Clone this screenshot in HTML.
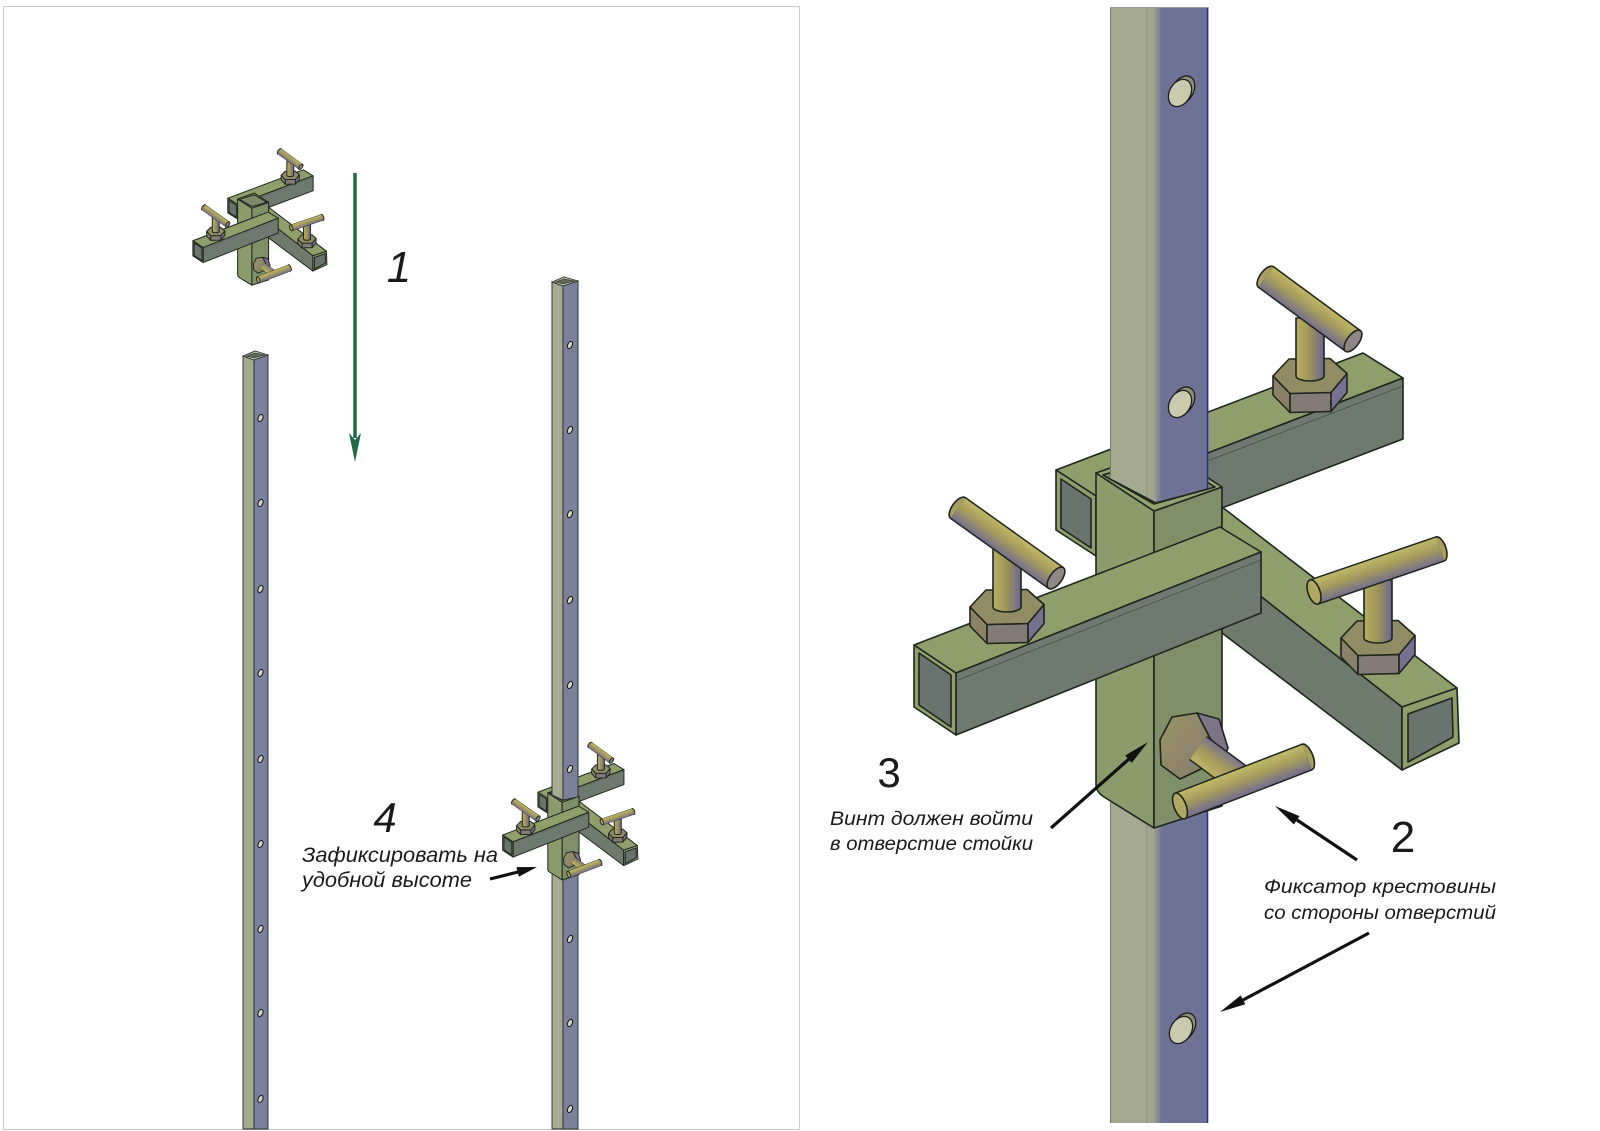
<!DOCTYPE html>
<html>
<head>
<meta charset="utf-8">
<style>
  html,body{margin:0;padding:0;background:#fff;}
  svg{display:block;}
  .lbl{font-family:"Liberation Sans", sans-serif; font-style:italic; fill:#1a1a1a;}
  .num{font-family:"Liberation Sans", sans-serif; fill:#1a1a1a;}
</style>
</head>
<body>
<svg width="1600" height="1131" viewBox="0 0 1600 1131" xmlns="http://www.w3.org/2000/svg" xmlns:xlink="http://www.w3.org/1999/xlink">
<defs>
  <linearGradient id="stemG" gradientUnits="userSpaceOnUse" x1="-14" y1="0" x2="14" y2="0">
    <stop offset="0" stop-color="#b8ae62"/><stop offset="0.45" stop-color="#a09659"/><stop offset="1" stop-color="#6d6891"/>
  </linearGradient>
  <linearGradient id="hU" gradientUnits="userSpaceOnUse" x1="1316.6" y1="299.3" x2="1302.4" y2="318.7">
    <stop offset="0" stop-color="#c0b667"/><stop offset="0.45" stop-color="#a69c5c"/><stop offset="1" stop-color="#77708c"/>
  </linearGradient>
  <linearGradient id="hF" gradientUnits="userSpaceOnUse" x1="1014" y1="533.2" x2="1000" y2="552.8">
    <stop offset="0" stop-color="#c0b667"/><stop offset="0.45" stop-color="#a69c5c"/><stop offset="1" stop-color="#77708c"/>
  </linearGradient>
  <linearGradient id="hA" gradientUnits="userSpaceOnUse" x1="1373.1" y1="559.1" x2="1380.9" y2="581.9">
    <stop offset="0" stop-color="#c0b667"/><stop offset="0.45" stop-color="#a69c5c"/><stop offset="1" stop-color="#77708c"/>
  </linearGradient>
  <linearGradient id="hS" gradientUnits="userSpaceOnUse" x1="1239.2" y1="770.3" x2="1247.8" y2="792.7">
    <stop offset="0" stop-color="#c0b667"/><stop offset="0.45" stop-color="#a69c5c"/><stop offset="1" stop-color="#77708c"/>
  </linearGradient>
  <linearGradient id="hSh" gradientUnits="userSpaceOnUse" x1="1231.3" y1="755.2" x2="1214.7" y2="777.8">
    <stop offset="0" stop-color="#7a7390"/><stop offset="0.5" stop-color="#a69c5c"/><stop offset="1" stop-color="#bdb366"/>
  </linearGradient>
  <linearGradient id="nutF" x1="0" y1="0" x2="1" y2="1">
    <stop offset="0" stop-color="#9a9366"/><stop offset="1" stop-color="#857b70"/>
  </linearGradient>
  <linearGradient id="edgeG" gradientUnits="userSpaceOnUse" x1="1146" y1="0" x2="1162" y2="0">
    <stop offset="0" stop-color="#8c907a"/><stop offset="0.12" stop-color="#a2a68c"/><stop offset="0.45" stop-color="#a0a48c"/><stop offset="1" stop-color="#6e7395"/>
  </linearGradient>

  <g id="nut">
    <polygon points="-37,0 -20,17.5 -20,36.5 -37,19" fill="#8a8166"/>
    <polygon points="-20,17.5 21,16.5 21,35.5 -20,36.5" fill="#857b76"/>
    <polygon points="21,16.5 37,-2.5 37,16.5 21,35.5" fill="#787090"/>
    <polygon points="-37,0 -21,-17 20,-17.5 37,-2.5 21,16.5 -20,17.5" fill="#928c64"/>
    <path d="M-14,-58 V0 A14,5 0 0 0 14,0 V-58 Z" fill="url(#stemG)"/>
  </g>

  <g id="back">
    <polygon points="1056,470 1363,353 1403,378 1096,496" fill="#8f9e6b"/>
    <polygon points="1096,496 1403,378 1403,439 1096,556" fill="#6e7a6f"/>
    <line x1="1098" y1="503" x2="1403" y2="386" stroke-width="0.8" opacity="0.5"/>
    <polygon points="1056,470 1096,496 1096,556 1056,530" fill="#8f9e6b"/>
    <polygon points="1061,479 1091,499 1091,548 1061,528" fill="#6a746e"/>
    <path d="M1096,473 L1154,511 L1154,828 L1104,797 Q1096,792 1096,784 Z" fill="#8c9b6c"/>
    <polygon points="1154,511 1222,487 1222,806 1154,828" fill="#7f8f6a"/>
    <polygon points="1096,473 1164,449 1222,487 1154,511" fill="#93a271"/>
    <polygon points="1103,475 1164,456 1215,487 1154,504" fill="#7d8a68"/>
  </g>

  <g id="front">
    <polygon points="1222,507 1457,688 1402,707 1222,566" fill="#8f9e6b"/>
    <polygon points="1222,566 1402,707 1402,770 1222,633" fill="#6e7a6c"/>
    <polygon points="1402,707 1457,688 1459,743 1402,770" fill="#8f9e6b"/>
    <polygon points="1408,714 1452,698 1453,737 1408,762" fill="#6a746e"/>

    <polygon points="914,645 1220,527 1261,552 956,673" fill="#8f9e6b"/>
    <polygon points="956,673 1261,552 1261,613 956,735" fill="#6e7a6f"/>
    <line x1="958" y1="680" x2="1261" y2="560" stroke-width="0.8" opacity="0.5"/>
    <polygon points="914,645 956,673 956,735 914,707" fill="#8f9e6b"/>
    <polygon points="919,653 951,675 951,727 919,705" fill="#6a746e"/>

    <use xlink:href="#nut" href="#nut" x="1310" y="376"/>
    <ellipse cx="1266" cy="277" rx="6" ry="12.7" transform="rotate(36.3 1266 277)" fill="#a79e5f"/>
    <line x1="1266" y1="277" x2="1353" y2="341" stroke="#1e261e" stroke-width="27"/>
    <line x1="1266" y1="277" x2="1353" y2="341" stroke="url(#hU)" stroke-width="24"/>
    <ellipse cx="1353" cy="341" rx="6" ry="12.7" transform="rotate(36.3 1353 341)" fill="#8e8785"/>

    <use xlink:href="#nut" href="#nut" x="1007" y="607"/>
    <ellipse cx="958" cy="508" rx="6" ry="12.7" transform="rotate(35.5 958 508)" fill="#a79e5f"/>
    <line x1="958" y1="508" x2="1056" y2="578" stroke="#1e261e" stroke-width="27"/>
    <line x1="958" y1="508" x2="1056" y2="578" stroke="url(#hF)" stroke-width="24"/>
    <ellipse cx="1056" cy="578" rx="6" ry="12.7" transform="rotate(35.5 1056 578)" fill="#8e8785"/>

    <use xlink:href="#nut" href="#nut" x="1378" y="638"/>
    <ellipse cx="1440" cy="549" rx="6" ry="12.7" transform="rotate(-18.8 1440 549)" fill="#a79e5f"/>
    <line x1="1440" y1="549" x2="1314" y2="592" stroke="#1e261e" stroke-width="27"/>
    <line x1="1440" y1="549" x2="1314" y2="592" stroke="url(#hA)" stroke-width="24"/>
    <ellipse cx="1314" cy="592" rx="6" ry="12.7" transform="rotate(-18.8 1314 592)" fill="#b0a763"/>

    <!-- sleeve screw: hex nut seen from side -->
    <polygon points="1197,713 1219,719 1228,748 1218,774 1203,768 1211,740" fill="#7d7488"/>
    <polygon points="1160,740 1172,717 1197,713 1211,740 1203,768 1180,779 1161,765" fill="url(#nutF)"/>
    <line x1="1198" y1="748" x2="1248" y2="785" stroke="#1e261e" stroke-width="30"/>
    <line x1="1198" y1="748" x2="1248" y2="785" stroke="url(#hSh)" stroke-width="27"/>
    <ellipse cx="1307" cy="757" rx="6" ry="13.7" transform="rotate(-21.1 1307 757)" fill="#a79e5f"/>
    <line x1="1307" y1="757" x2="1180" y2="806" stroke="#1e261e" stroke-width="29"/>
    <line x1="1307" y1="757" x2="1180" y2="806" stroke="url(#hS)" stroke-width="26"/>
    <ellipse cx="1180" cy="806" rx="6" ry="13.7" transform="rotate(-21.1 1180 806)" fill="#b0a763"/>
  </g>
</defs>

<rect x="3.5" y="6.5" width="796" height="1123" fill="#fff" stroke="#cccccc" stroke-width="1"/>

<g stroke="#2a2e2a" stroke-width="0.9">
  <polygon points="243,356 254,360 254,1129 243,1129" fill="#a6aa90"/>
  <polygon points="254,360 268,355 268,1129 254,1129" fill="#7b809b"/>
  <polygon points="243,356 255,351 268,355 254,360" fill="#c7c8b0"/>
  <polygon points="246,356 255,353 265,355 254,358" fill="#5f6858" stroke-width="0.6"/>
</g>
<g fill="#d2d2c0" stroke="#111" stroke-width="1">
  <ellipse cx="260.5" cy="418" rx="2.3" ry="3.8" transform="rotate(25 260.5 418)"/>
  <ellipse cx="260.5" cy="503" rx="2.3" ry="3.8" transform="rotate(25 260.5 503)"/>
  <ellipse cx="260.5" cy="589" rx="2.3" ry="3.8" transform="rotate(25 260.5 589)"/>
  <ellipse cx="260.5" cy="673" rx="2.3" ry="3.8" transform="rotate(25 260.5 673)"/>
  <ellipse cx="260.5" cy="759" rx="2.3" ry="3.8" transform="rotate(25 260.5 759)"/>
  <ellipse cx="260.5" cy="844" rx="2.3" ry="3.8" transform="rotate(25 260.5 844)"/>
  <ellipse cx="260.5" cy="929" rx="2.3" ry="3.8" transform="rotate(25 260.5 929)"/>
  <ellipse cx="260.5" cy="1013" rx="2.3" ry="3.8" transform="rotate(25 260.5 1013)"/>
  <ellipse cx="260.5" cy="1099" rx="2.3" ry="3.8" transform="rotate(25 260.5 1099)"/>
</g>

<g stroke="#2a2e2a" stroke-width="0.9">
  <polygon points="552,282 563,286 563,1129 552,1129" fill="#a6aa90"/>
  <polygon points="563,286 578,281 578,1129 563,1129" fill="#7b809b"/>
</g>
<g fill="#d2d2c0" stroke="#111" stroke-width="1">
  <ellipse cx="570" cy="939" rx="2.3" ry="3.8" transform="rotate(25 570 939)"/>
  <ellipse cx="570" cy="1023" rx="2.3" ry="3.8" transform="rotate(25 570 1023)"/>
  <ellipse cx="570" cy="1109" rx="2.3" ry="3.8" transform="rotate(25 570 1109)"/>
</g>
<use xlink:href="#back" href="#back" transform="translate(276,677) scale(0.248,0.245)" stroke="#1e261e" stroke-width="4" stroke-linejoin="round"/>
<g stroke="#2a2e2a" stroke-width="0.9">
  <polygon points="552,282 563,286 563,800 552,795" fill="#a6aa90"/>
  <polygon points="563,286 578,281 578,797 563,800" fill="#7b809b"/>
  <polygon points="552,282 564,277 578,281 563,286" fill="#c7c8b0"/>
  <polygon points="555,282 564,279 575,281 563,284" fill="#5f6858" stroke-width="0.6"/>
</g>
<g fill="#d2d2c0" stroke="#111" stroke-width="1">
  <ellipse cx="570" cy="345" rx="2.3" ry="3.8" transform="rotate(25 570 345)"/>
  <ellipse cx="570" cy="430" rx="2.3" ry="3.8" transform="rotate(25 570 430)"/>
  <ellipse cx="570" cy="514" rx="2.3" ry="3.8" transform="rotate(25 570 514)"/>
  <ellipse cx="570" cy="600" rx="2.3" ry="3.8" transform="rotate(25 570 600)"/>
  <ellipse cx="570" cy="685" rx="2.3" ry="3.8" transform="rotate(25 570 685)"/>
  <ellipse cx="570" cy="769" rx="2.3" ry="3.8" transform="rotate(25 570 769)"/>
</g>
<use xlink:href="#front" href="#front" transform="translate(276,677) scale(0.248,0.245)" stroke="#1e261e" stroke-width="4" stroke-linejoin="round"/>

<use xlink:href="#back" href="#back" transform="translate(-32,84) scale(0.246,0.243)" stroke="#1e261e" stroke-width="4" stroke-linejoin="round"/>
<use xlink:href="#front" href="#front" transform="translate(-32,84) scale(0.246,0.243)" stroke="#1e261e" stroke-width="4" stroke-linejoin="round"/>

<line x1="355" y1="173" x2="355" y2="438" stroke="#1f6a45" stroke-width="3.5"/>
<polygon points="349,433 355,440 361,433 355,462" fill="#1f6a45"/>

<text class="num" x="399" y="282" font-size="44" font-style="italic" text-anchor="middle">1</text>
<text class="num" x="385" y="832" font-size="42" font-style="italic" text-anchor="middle">4</text>
<text class="lbl" x="302" y="862" font-size="21" textLength="196" lengthAdjust="spacingAndGlyphs">Зафиксировать на</text>
<text class="lbl" x="302" y="887" font-size="21" textLength="170" lengthAdjust="spacingAndGlyphs">удобной высоте</text>
<line x1="490" y1="879" x2="518" y2="872" stroke="#111" stroke-width="3.2"/>
<polygon points="518.8,876.7 537,867 516.4,867.1" fill="#111"/>

<rect x="1110" y="7" width="46" height="1116" fill="#a5a98f"/>
<rect x="1156" y="7" width="52" height="1116" fill="#6e7395"/>
<rect x="1146" y="7" width="16" height="1116" fill="url(#edgeG)"/>
<line x1="1110.5" y1="7" x2="1110.5" y2="1123" stroke="#777a6a" stroke-width="1"/>
<line x1="1207.5" y1="7" x2="1207.5" y2="1123" stroke="#2d3382" stroke-width="1.6"/>

<use xlink:href="#back" href="#back" stroke="#1e261e" stroke-width="1.6" stroke-linejoin="round"/>

<polygon points="1110,7 1156,7 1156,503 1110,479" fill="#a5a98f"/>
<polygon points="1156,7 1208,7 1208,489 1156,503" fill="#6e7395"/>
<polygon points="1146,7 1162,7 1162,501 1146,497" fill="url(#edgeG)"/>
<line x1="1110.5" y1="7" x2="1110.5" y2="479" stroke="#777a6a" stroke-width="1"/>
<line x1="1207.5" y1="7" x2="1207.5" y2="489" stroke="#2d3382" stroke-width="1.6"/>
<line x1="1110" y1="7.5" x2="1208" y2="7.5" stroke="#9a9a9a" stroke-width="1"/>
<polyline points="1110,479 1156,503 1208,489" fill="none" stroke="#1e261e" stroke-width="1.6"/>

<g stroke="#1e1e1e" stroke-width="1.3">
  <ellipse cx="1183" cy="90" rx="10.5" ry="15" transform="rotate(30 1183 90)" fill="#8e8f7a"/>
  <ellipse cx="1180" cy="93" rx="10.5" ry="14.5" transform="rotate(30 1180 93)" fill="#c9caae"/>
  <ellipse cx="1183" cy="401" rx="10.5" ry="15" transform="rotate(30 1183 401)" fill="#8e8f7a"/>
  <ellipse cx="1180" cy="404" rx="10.5" ry="14.5" transform="rotate(30 1180 404)" fill="#c9caae"/>
  <ellipse cx="1184" cy="1027" rx="10.5" ry="15" transform="rotate(30 1184 1027)" fill="#8e8f7a"/>
  <ellipse cx="1181" cy="1030" rx="10.5" ry="14.5" transform="rotate(30 1181 1030)" fill="#c9caae"/>
</g>

<use xlink:href="#front" href="#front" stroke="#1e261e" stroke-width="1.6" stroke-linejoin="round"/>

<text class="num" x="889" y="787" font-size="42" text-anchor="middle">3</text>
<text class="lbl" x="830" y="825" font-size="19" textLength="203" lengthAdjust="spacingAndGlyphs">Винт должен войти</text>
<text class="lbl" x="830" y="850" font-size="19" textLength="203" lengthAdjust="spacingAndGlyphs">в отверстие стойки</text>
<text class="num" x="1403" y="852" font-size="44" text-anchor="middle">2</text>
<text class="lbl" x="1264" y="893" font-size="19.5" textLength="232" lengthAdjust="spacingAndGlyphs">Фиксатор крестовины</text>
<text class="lbl" x="1264" y="919" font-size="19.5" textLength="232" lengthAdjust="spacingAndGlyphs">со стороны отверстий</text>

<line x1="1051" y1="828" x2="1129" y2="759" stroke="#111" stroke-width="3.2"/>
<polygon points="1131.8,762.9 1148,742 1125.2,755.5" fill="#111"/>
<line x1="1357" y1="860" x2="1297" y2="820" stroke="#111" stroke-width="3.2"/>
<polygon points="1299.5,816.1 1275,806 1293.9,824.5" fill="#111"/>
<line x1="1369" y1="933" x2="1243" y2="1000" stroke="#111" stroke-width="3.2"/>
<polygon points="1245.3,1004.2 1220,1012 1240.7,995.4" fill="#111"/>
</svg>
</body>
</html>
